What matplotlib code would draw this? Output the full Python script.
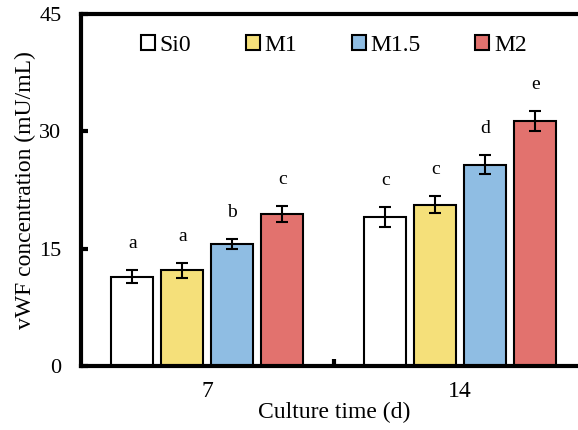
import numpy as np
from matplotlib import pyplot as plt

plt.rcParams['font.family'] = ['Liberation Serif', 'DejaVu Serif']

# data
days = ['7', '14']
groups = ['Si0', 'M1', 'M1.5', 'M2']
colors = ['#ffffff', '#f5e07a', '#8fbde3', '#e2726e']
means = [[11.4, 19.0],
         [12.2, 20.6],
         [15.6, 25.7],
         [19.4, 31.3]]
errs = [[0.8, 1.3],
        [1.0, 1.1],
        [0.6, 1.2],
        [1.0, 1.3]]
letters = [['a', 'c'],
           ['a', 'c'],
           ['b', 'd'],
           ['c', 'e']]

fig = plt.figure(figsize=(5.78, 4.30), dpi=100)
ax = fig.add_axes([0.140, 0.149, 0.875, 0.819])

x = np.arange(len(days))
step, width = 0.198, 0.166
for i, g in enumerate(groups):
    pos = x + (i - 1.5) * step
    ax.bar(pos, means[i], width, yerr=errs[i], color=colors[i], edgecolor='black',
           linewidth=1.5, label=g, capsize=4,
           error_kw=dict(elinewidth=1.5, capthick=1.5, ecolor='black'))
    for p, m, e, t in zip(pos, means[i], errs[i], letters[i]):
        ax.annotate(t, (p, m + e), xytext=(0, 13), textcoords='offset points',
                    ha='center', va='bottom', fontsize=14)

ax.set_xlim(-0.5, 1.5)
ax.set_ylim(0, 45)
ax.set_yticks([0, 15, 30, 45])
ax.set_xticks([0.5])
ax.set_xticklabels([''])
ax.set_xticks(x, minor=True)
ax.set_xticklabels(days, minor=True)
ax.tick_params(axis='x', which='minor', length=0, pad=11, labelsize=17)
ax.tick_params(axis='x', which='major', direction='in', length=5, width=3)
ax.tick_params(axis='y', direction='in', length=5, width=3, labelsize=16, pad=14)
for s in ax.spines.values():
    s.set_linewidth(3)

ax.set_ylabel('vWF concentration (mU/mL)', fontsize=17, labelpad=2)
ax.set_xlabel('Culture time (d)', fontsize=17, labelpad=0)

ax.legend(loc='upper center', bbox_to_anchor=(0.5, 1.0), ncol=4, frameon=False,
          fontsize=17, handlelength=0.6, handleheight=0.6, handletextpad=0.2,
          columnspacing=2.3)

plt.savefig('out.png', dpi=100)
